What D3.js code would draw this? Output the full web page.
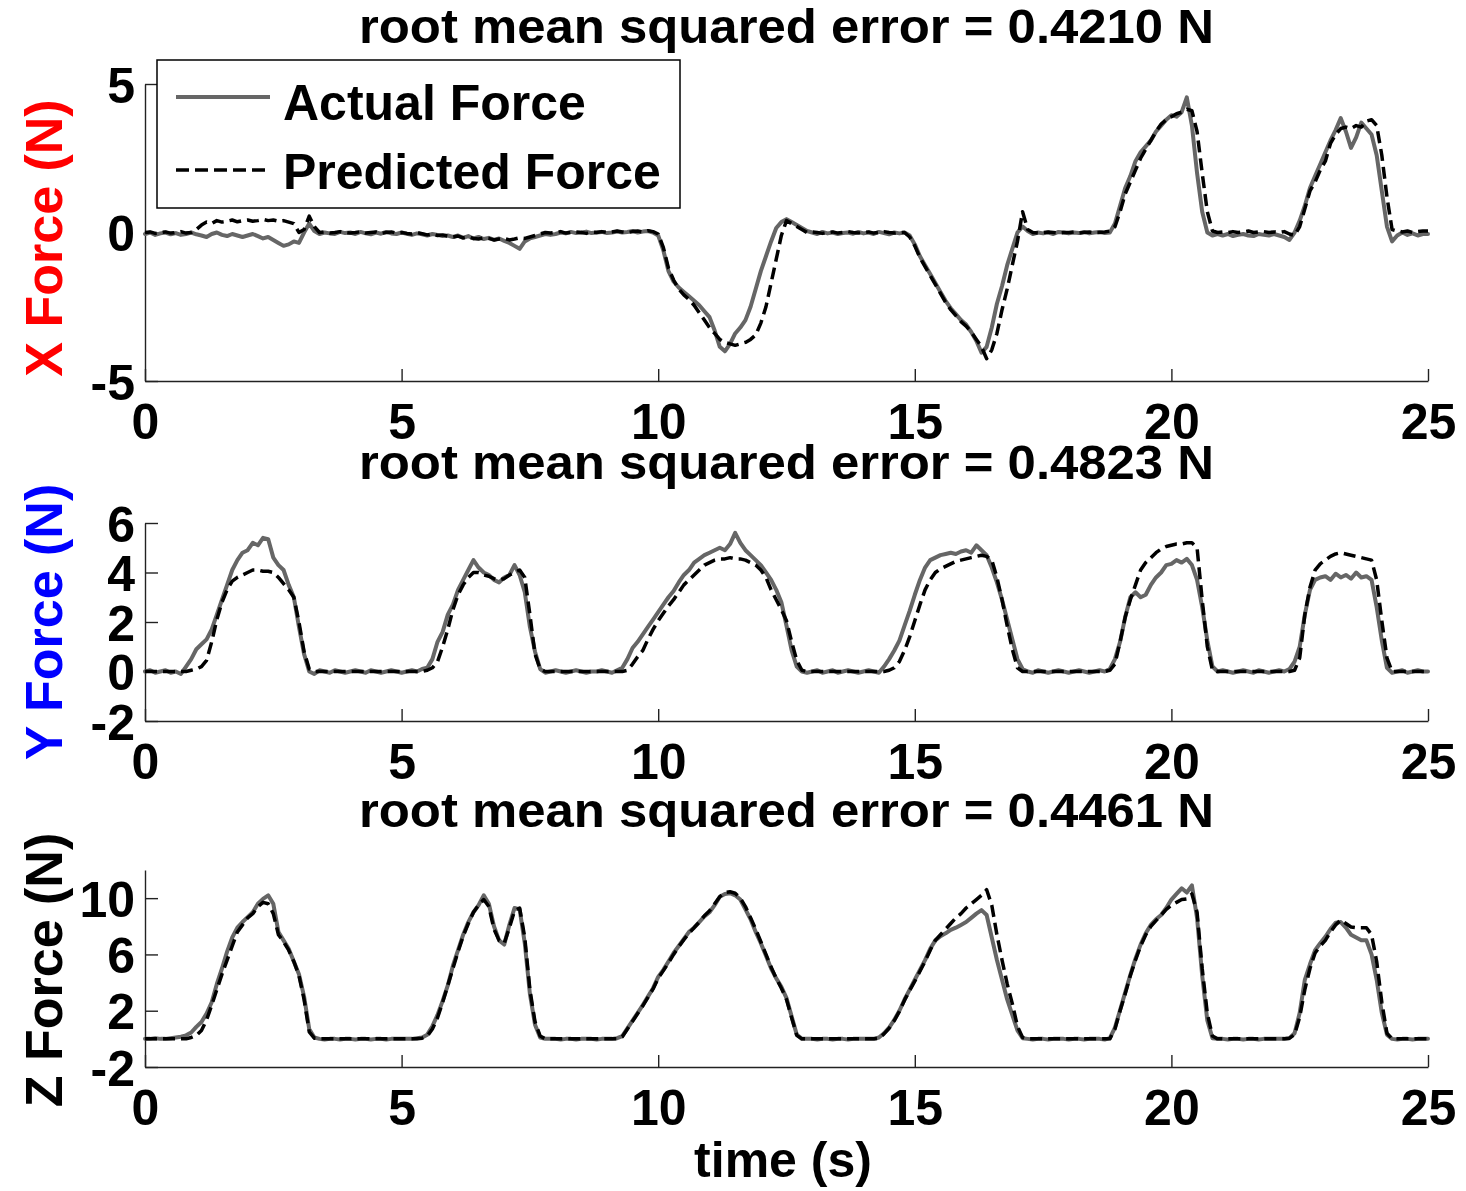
<!DOCTYPE html>
<html><head><meta charset="utf-8">
<script src="https://cdn.jsdelivr.net/npm/d3@7"></script>
<style>body{margin:0;background:#fff}</style>
</head><body>
<svg id="chart" width="1466" height="1191"></svg>
<script>
// ---------- data ----------
const sampleStep = 0.1; // seconds between samples (251 samples, 0..25 s)
const xTicks = [0, 5, 10, 15, 20, 25];
const titles = ["root mean squared error = 0.4210 N",
                "root mean squared error = 0.4823 N",
                "root mean squared error = 0.4461 N"];
const yLabels = ["X Force (N)", "Y Force (N)", "Z Force (N)"];
const yDomains = [[-5, 5], [-2, 6], [-2, 12]];
const yTickValues = [[-5, 0, 5], [-2, 0, 2, 4, 6], [-2, 2, 6, 10]];
const xLabel = "time (s)";
const legendLabels = ["Actual Force", "Predicted Force"];

const xActual = [
-0.05,0.00,-0.08,-0.03,0.00,-0.06,-0.02,-0.08,-0.05,0.00,
-0.06,-0.10,-0.15,-0.05,0.00,-0.08,-0.12,-0.05,-0.10,-0.15,
-0.10,-0.05,-0.12,-0.20,-0.15,-0.25,-0.35,-0.45,-0.40,-0.30,
-0.35,0.00,0.30,0.05,-0.05,0.00,-0.03,-0.05,0.02,-0.02,
0.00,-0.05,0.02,-0.03,-0.06,0.00,-0.04,0.02,-0.03,-0.05,
0.00,-0.04,-0.08,-0.03,-0.06,-0.10,-0.05,-0.08,-0.12,-0.10,
-0.15,-0.10,-0.18,-0.12,-0.20,-0.15,-0.22,-0.18,-0.25,-0.20,
-0.28,-0.35,-0.45,-0.55,-0.30,-0.20,-0.15,-0.10,-0.05,-0.08,
-0.05,0.00,-0.03,0.02,-0.02,0.00,0.03,-0.02,0.00,0.02,
-0.02,0.00,0.03,0.00,0.02,0.05,0.00,0.03,0.05,0.00,
-0.10,-0.60,-1.30,-1.65,-1.85,-2.00,-2.15,-2.30,-2.45,-2.65,
-2.85,-3.30,-3.85,-4.00,-3.75,-3.40,-3.20,-2.95,-2.50,-1.90,
-1.30,-0.80,-0.30,0.15,0.35,0.45,0.35,0.25,0.15,0.05,
0.00,-0.05,0.02,-0.03,0.00,-0.05,-0.02,0.00,-0.04,0.02,
-0.03,0.00,-0.05,0.02,-0.02,-0.06,0.00,-0.03,0.00,-0.10,
-0.40,-0.80,-1.10,-1.40,-1.70,-2.00,-2.30,-2.55,-2.75,-2.95,
-3.10,-3.35,-3.65,-4.05,-3.85,-3.20,-2.40,-1.80,-1.10,-0.55,
0.00,0.20,0.05,-0.05,0.00,-0.03,0.00,-0.05,0.02,0.00,
-0.03,0.00,-0.02,0.02,-0.03,0.00,0.02,-0.02,0.00,0.30,
0.90,1.50,1.90,2.40,2.70,2.90,3.10,3.40,3.60,3.80,
3.95,3.90,4.05,4.55,3.60,2.00,0.70,0.00,-0.10,-0.05,
-0.10,-0.05,-0.12,-0.08,-0.05,-0.10,-0.12,-0.05,-0.08,-0.10,
-0.05,-0.10,-0.15,-0.25,0.00,0.40,0.90,1.50,1.90,2.30,
2.70,3.10,3.45,3.85,3.40,2.85,3.20,3.70,3.50,3.30,
2.60,1.40,0.20,-0.30,-0.10,0.00,-0.08,-0.03,-0.10,-0.05,
-0.05];

const xPredicted = [
0.00,0.02,-0.03,0.00,0.02,-0.02,0.00,0.03,-0.02,0.00,
0.10,0.25,0.35,0.30,0.40,0.35,0.38,0.42,0.36,0.40,
0.42,0.38,0.40,0.44,0.40,0.42,0.38,0.40,0.35,0.30,
0.00,0.10,0.55,0.20,0.00,0.02,-0.02,0.00,0.03,0.00,
-0.02,0.00,0.03,-0.02,0.00,0.02,-0.03,0.00,0.02,-0.02,
0.00,-0.03,-0.05,0.00,-0.04,-0.08,-0.05,-0.10,-0.08,-0.12,
-0.15,-0.12,-0.18,-0.15,-0.20,-0.22,-0.18,-0.20,-0.25,-0.22,
-0.20,-0.25,-0.22,-0.18,-0.20,-0.15,-0.10,-0.05,0.00,-0.02,
0.00,0.03,-0.02,0.00,0.02,0.00,-0.03,0.02,0.00,0.03,
0.00,0.02,0.05,0.02,0.00,0.03,0.05,0.02,0.06,0.03,
-0.05,-0.50,-1.20,-1.60,-1.90,-2.10,-2.25,-2.45,-2.70,-2.95,
-3.20,-3.40,-3.60,-3.70,-3.75,-3.80,-3.75,-3.70,-3.60,-3.45,
-3.05,-2.50,-1.70,-0.90,-0.10,0.40,0.30,0.20,0.10,0.00,
0.02,0.00,-0.03,0.00,0.02,-0.02,0.00,0.03,0.00,-0.02,
0.00,0.02,-0.02,0.00,0.03,0.00,-0.02,0.00,0.00,-0.15,
-0.45,-0.85,-1.15,-1.45,-1.75,-2.05,-2.35,-2.60,-2.80,-3.00,
-3.15,-3.35,-3.60,-3.85,-4.25,-3.95,-3.40,-2.60,-1.90,-1.10,
-0.30,0.70,0.10,0.00,-0.02,0.00,0.02,0.00,-0.02,0.00,
0.00,0.02,-0.02,0.00,0.02,0.00,0.00,0.02,0.05,0.20,
0.70,1.30,1.70,2.10,2.50,2.80,3.10,3.40,3.65,3.80,
3.90,4.00,4.05,4.15,4.10,3.40,2.00,0.70,0.05,0.00,
0.02,0.00,0.03,0.00,0.02,0.05,0.00,0.02,0.03,0.00,
0.02,0.00,0.03,-0.05,-0.10,0.20,0.80,1.40,1.70,2.10,
2.40,3.00,3.30,3.50,3.55,3.50,3.60,3.55,3.75,3.80,
3.60,2.60,1.20,0.10,0.05,0.02,0.05,0.00,0.03,0.05,
0.05];

const yActual = [
0.00,0.05,-0.05,0.00,0.05,-0.05,0.00,-0.10,0.20,0.50,
0.90,1.10,1.30,1.70,2.30,2.90,3.50,4.10,4.50,4.80,
4.90,5.20,5.10,5.40,5.35,4.60,4.30,4.10,3.50,3.00,
1.80,0.70,0.00,-0.10,0.05,0.00,-0.05,0.05,0.00,-0.05,
0.00,0.05,0.00,-0.05,0.05,0.00,-0.05,0.00,0.05,0.00,
-0.05,0.00,0.05,0.00,0.10,0.15,0.50,1.20,1.60,2.30,
2.70,3.30,3.70,4.10,4.50,4.20,4.00,3.90,3.70,3.60,
3.80,3.90,4.30,3.90,3.20,1.80,0.80,0.10,-0.05,0.00,
0.05,0.00,-0.05,0.00,0.05,0.00,-0.05,0.00,0.00,0.05,
0.00,-0.05,0.05,0.15,0.50,0.95,1.20,1.50,1.80,2.10,
2.40,2.70,3.00,3.25,3.60,3.90,4.10,4.40,4.55,4.70,
4.80,4.90,5.00,4.90,5.15,5.60,5.20,4.90,4.70,4.50,
4.30,4.00,3.70,3.30,2.80,1.85,0.85,0.20,0.00,-0.05,
0.00,0.05,-0.05,0.00,0.05,-0.05,0.00,0.05,0.00,-0.05,
0.00,0.05,0.00,-0.05,0.20,0.50,0.85,1.25,1.85,2.45,
3.10,3.70,4.20,4.50,4.60,4.70,4.75,4.80,4.75,4.85,
4.90,4.80,5.10,4.90,4.70,4.20,3.60,2.90,2.10,1.30,
0.50,0.10,0.00,-0.05,0.05,0.00,-0.05,0.00,0.05,0.00,
-0.05,0.00,0.05,0.00,-0.05,0.00,0.05,0.00,0.10,0.50,
1.20,2.20,3.00,3.20,3.00,3.10,3.50,3.80,4.00,4.30,
4.35,4.50,4.40,4.55,4.30,3.70,2.60,1.25,0.20,0.00,
0.05,0.00,-0.05,0.00,0.05,0.00,-0.05,0.05,0.00,-0.05,
0.00,0.05,0.00,0.10,0.40,1.00,2.30,3.30,3.70,3.80,
3.85,3.70,3.95,3.80,3.90,3.75,4.00,3.80,3.85,3.70,
2.60,1.25,0.15,-0.05,0.00,0.05,-0.05,0.00,0.05,0.00,
0.00];

const yPredicted = [
0.00,0.00,0.00,0.00,0.00,0.00,0.00,0.00,0.00,0.05,
0.10,0.20,0.45,1.20,2.10,2.80,3.30,3.65,3.80,3.90,
4.00,4.10,4.10,4.05,4.05,4.00,3.80,3.55,3.30,3.00,
2.00,0.80,0.10,0.00,0.00,0.00,0.00,0.00,0.00,0.00,
0.00,0.00,0.00,0.00,0.00,0.00,0.00,0.00,0.00,0.00,
0.00,0.00,0.00,0.00,0.00,0.05,0.15,0.40,1.00,1.70,
2.50,3.10,3.50,3.80,4.00,4.00,3.90,3.85,3.75,3.70,
3.75,3.90,4.00,4.10,3.80,2.30,0.70,0.10,0.00,0.00,
0.00,0.00,0.00,0.00,0.00,0.00,0.00,0.00,0.00,0.00,
0.00,0.00,0.00,0.00,0.05,0.30,0.60,0.85,1.30,1.70,
2.05,2.35,2.65,2.90,3.20,3.50,3.70,3.90,4.10,4.30,
4.40,4.50,4.55,4.55,4.60,4.55,4.55,4.50,4.40,4.30,
4.10,3.80,3.30,2.90,2.50,2.05,1.20,0.45,0.05,0.00,
0.00,0.00,0.00,0.00,0.00,0.00,0.00,0.00,0.00,0.00,
0.00,0.00,0.00,0.00,0.00,0.05,0.15,0.40,0.85,1.40,
2.05,2.70,3.30,3.70,4.00,4.15,4.25,4.35,4.45,4.50,
4.55,4.60,4.65,4.70,4.65,4.50,3.80,2.90,1.85,0.90,
0.15,0.00,0.00,0.00,0.00,0.00,0.00,0.00,0.00,0.00,
0.00,0.00,0.00,0.00,0.00,0.00,0.00,0.00,0.05,0.30,
1.20,2.20,2.90,3.50,4.10,4.40,4.60,4.80,4.95,5.05,
5.10,5.15,5.15,5.20,5.20,5.00,2.90,1.00,0.05,0.00,
0.00,0.00,0.00,0.00,0.00,0.00,0.00,0.00,0.00,0.00,
0.00,0.00,0.00,0.00,0.05,0.55,2.30,3.40,4.10,4.35,
4.50,4.65,4.75,4.80,4.75,4.70,4.65,4.60,4.55,4.50,
3.70,2.05,0.55,0.00,0.00,0.00,0.00,0.00,0.00,0.00,
0.00];

const zActual = [
0.00,0.00,0.05,0.00,0.00,0.05,0.10,0.15,0.25,0.45,
0.85,1.20,1.80,2.60,3.90,5.00,6.20,7.20,7.90,8.30,
8.65,9.00,9.60,9.95,10.20,9.60,7.60,7.00,6.40,5.50,
4.60,3.00,0.70,0.10,0.00,-0.05,0.00,0.00,-0.05,0.00,
0.00,-0.05,0.00,0.00,-0.05,0.00,0.00,-0.05,0.00,0.00,
0.00,0.00,0.00,0.05,0.10,0.30,0.90,1.70,2.70,3.80,
5.20,6.30,7.40,8.30,9.00,9.50,10.20,9.60,8.00,7.00,
6.70,8.10,9.30,9.20,6.80,3.20,1.00,0.10,0.00,0.00,
0.00,-0.05,0.00,0.00,-0.05,0.00,0.00,0.00,-0.05,0.00,
0.00,0.00,0.05,0.20,0.75,1.30,1.85,2.40,3.00,3.60,
4.40,4.90,5.50,6.10,6.60,7.10,7.60,7.90,8.30,8.70,
9.00,9.50,10.10,10.30,10.35,10.20,9.90,9.20,8.50,7.60,
6.80,5.90,5.00,4.30,3.70,2.90,1.60,0.30,0.00,0.00,
0.00,-0.05,0.00,0.00,-0.05,0.00,0.00,-0.05,0.00,0.00,
0.00,0.00,0.00,0.10,0.40,0.80,1.35,2.00,2.80,3.50,
4.20,4.90,5.60,6.40,7.00,7.30,7.50,7.75,7.90,8.10,
8.30,8.60,8.90,9.15,8.80,7.20,5.60,4.20,2.80,1.70,
0.60,0.05,0.00,-0.05,0.00,0.00,-0.05,0.00,0.00,0.00,
-0.05,0.00,0.00,-0.05,0.00,0.00,0.00,-0.05,0.05,0.80,
2.05,3.30,4.55,5.70,6.70,7.50,8.10,8.50,8.80,9.30,
9.90,10.30,10.70,10.40,10.90,8.60,4.50,1.30,0.05,0.00,
0.00,-0.05,0.00,0.00,-0.05,0.00,0.00,-0.05,0.00,0.00,
0.00,0.00,0.00,0.05,0.40,1.85,4.20,5.30,6.30,6.80,
7.25,7.80,8.25,8.30,7.90,7.40,7.20,7.00,7.00,6.00,
4.20,1.85,0.30,0.00,-0.05,0.00,0.00,-0.05,0.00,0.00,
0.00];

const zPredicted = [
0.00,0.00,0.00,0.00,0.00,0.00,0.00,0.00,0.00,0.10,
0.25,0.60,1.35,2.40,3.50,4.60,5.60,6.60,7.60,8.10,
8.60,8.90,9.40,9.70,9.60,8.90,7.40,6.90,6.30,5.50,
4.50,2.80,0.50,0.05,0.00,0.00,0.00,0.00,0.00,0.00,
0.00,0.00,0.00,0.00,0.00,0.00,0.00,0.00,0.00,0.00,
0.00,0.00,0.00,0.00,0.05,0.20,0.70,1.50,2.60,3.80,
5.00,6.20,7.30,8.20,9.00,9.50,9.90,9.40,7.80,7.00,
6.80,7.90,9.10,9.30,7.20,3.50,1.20,0.20,0.00,0.00,
0.00,0.00,0.00,0.00,0.00,0.00,0.00,0.00,0.00,0.00,
0.00,0.00,0.00,0.15,0.70,1.25,1.80,2.35,2.95,3.55,
4.30,4.85,5.40,6.00,6.55,7.05,7.50,7.90,8.30,8.75,
9.10,9.60,10.10,10.40,10.45,10.35,10.00,9.40,8.60,7.80,
6.90,6.00,5.10,4.30,3.60,2.80,1.50,0.25,0.00,0.00,
0.00,0.00,0.00,0.00,0.00,0.00,0.00,0.00,0.00,0.00,
0.00,0.00,0.00,0.05,0.35,0.75,1.30,1.95,2.75,3.45,
4.10,4.80,5.50,6.30,7.00,7.40,7.80,8.20,8.60,8.90,
9.30,9.60,9.90,10.20,10.60,9.50,7.40,5.60,3.90,2.50,
0.90,0.10,0.00,0.00,0.00,0.00,0.00,0.00,0.00,0.00,
0.00,0.00,0.00,0.00,0.00,0.00,0.00,0.00,0.00,0.70,
2.00,3.20,4.50,5.60,6.60,7.40,8.00,8.40,8.80,9.20,
9.50,9.70,9.90,9.95,10.30,9.00,5.00,1.80,0.20,0.00,
0.00,0.00,0.00,0.00,0.00,0.00,0.00,0.00,0.00,0.00,
0.00,0.00,0.00,0.05,0.30,1.55,3.50,5.00,6.10,6.60,
7.00,7.60,8.10,8.45,8.20,7.95,7.90,7.90,7.90,7.40,
5.50,2.60,0.40,0.00,0.00,0.00,0.00,0.00,0.00,0.00,
0.00];

// ---------- layout ----------
const FONT = "'Liberation Sans', Arial, Helvetica, sans-serif";
const W = 1466, H = 1191;
const plotLeft = 145, plotRight = 1428;
const panels = [
  {top: 84, bottom: 381, titleY: 43, labelCY: 238, labelColor: "#ff0000", actual: xActual, predicted: xPredicted},
  {top: 523, bottom: 721, titleY: 479, labelCY: 622, labelColor: "#0000ff", actual: yActual, predicted: yPredicted},
  {top: 870, bottom: 1067, titleY: 827, labelCY: 970, labelColor: "#000000", actual: zActual, predicted: zPredicted}
];
const actualColor = "#666666", actualWidth = 4;
const predColor = "#000000", predWidth = 3.5, predDash = "12,6";

const svg = d3.select("#chart");
svg.append("rect").attr("width", W).attr("height", H).attr("fill", "#fff");

const x = d3.scaleLinear().domain([0, 25]).range([plotLeft, plotRight]);

panels.forEach((p, k) => {
  const y = d3.scaleLinear().domain(yDomains[k]).range([p.bottom, p.top]);
  const g = svg.append("g");

  // left axis
  const ya = g.append("g").attr("transform", `translate(${plotLeft},0)`)
    .call(d3.axisLeft(y).tickValues(yTickValues[k]).tickSizeInner(-13).tickSizeOuter(0)
      .tickPadding(10).tickFormat(v => String(v)));
  // bottom axis
  const xa = g.append("g").attr("transform", `translate(0,${p.bottom})`)
    .call(d3.axisBottom(x).tickValues(xTicks).tickSizeInner(-12).tickSizeOuter(0)
      .tickPadding(22).tickFormat(v => String(v)));
  [ya, xa].forEach(a => {
    a.select(".domain").attr("stroke", "#222").attr("stroke-width", 1.4);
    a.selectAll(".tick line").attr("stroke", "#222").attr("stroke-width", 1.4);
    a.selectAll(".tick text").attr("fill", "#000").style("font-family", FONT)
      .style("font-weight", "bold").style("font-size", "50px");
  });
  ya.selectAll(".tick text").attr("dy", "0.36em");

  // lines
  const line = d3.line().x((d, i) => x(i * sampleStep)).y(d => y(d));
  g.append("path").datum(p.actual).attr("d", line).attr("fill", "none")
    .attr("stroke", actualColor).attr("stroke-width", actualWidth)
    .attr("stroke-linejoin", "round").attr("stroke-linecap", "round");
  g.append("path").datum(p.predicted).attr("d", line).attr("fill", "none")
    .attr("stroke", predColor).attr("stroke-width", predWidth)
    .attr("stroke-dasharray", predDash).attr("stroke-linejoin", "round");

  // title
  svg.append("text").attr("x", (plotLeft + plotRight) / 2).attr("y", p.titleY)
    .attr("text-anchor", "middle").style("font-family", FONT).style("font-weight", "bold")
    .style("font-size", "48px").attr("textLength", 855).attr("lengthAdjust", "spacingAndGlyphs")
    .text(titles[k]);

  // y label
  svg.append("text").attr("transform", `translate(62,${p.labelCY}) rotate(-90)`)
    .attr("text-anchor", "middle").style("font-family", FONT).style("font-weight", "bold")
    .style("font-size", "52px").attr("fill", p.labelColor).text(yLabels[k]);
});

// x label
svg.append("text").attr("x", 783).attr("y", 1177).attr("text-anchor", "middle")
  .style("font-family", FONT).style("font-weight", "bold").style("font-size", "50px")
  .text(xLabel);

// legend
const lg = svg.append("g");
lg.append("rect").attr("x", 157).attr("y", 60).attr("width", 523).attr("height", 148)
  .attr("fill", "#fff").attr("stroke", "#000").attr("stroke-width", 1.5);
lg.append("line").attr("x1", 176).attr("x2", 270).attr("y1", 97).attr("y2", 97)
  .attr("stroke", actualColor).attr("stroke-width", actualWidth);
lg.append("line").attr("x1", 176).attr("x2", 266).attr("y1", 170).attr("y2", 170)
  .attr("stroke", predColor).attr("stroke-width", predWidth).attr("stroke-dasharray", "13,6");
lg.selectAll("text.leg").data(legendLabels).enter().append("text").attr("class", "leg")
  .attr("x", 283).attr("y", (d, i) => i === 0 ? 120 : 189)
  .style("font-family", FONT).style("font-weight", "bold").style("font-size", "50px")
  .text(d => d);
</script>
</body></html>
